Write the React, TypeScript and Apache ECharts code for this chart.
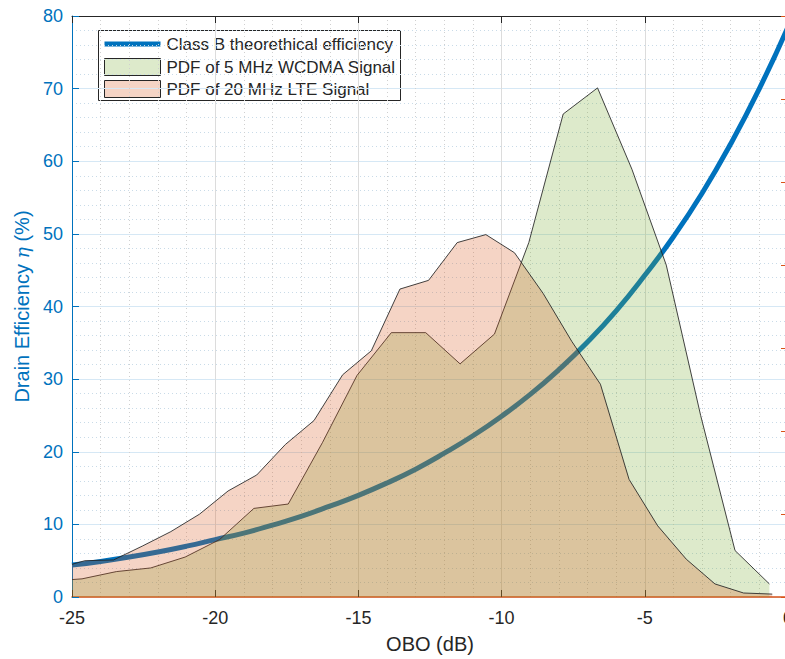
import React, { useEffect, useRef } from "react";
import * as echarts from "echarts";

// ---- data ----
const oboRange = [-25, 0];
const efficiencyRange = [0, 80];

const classBObo = [-25, -24, -23, -22, -21, -20, -19, -18, -17, -16, -15, -14, -13, -12, -11, -10, -9, -8, -7, -6, -5, -4, -3, -2, -1, 0];
const classBEff = [4.4, 4.9, 5.5, 6.2, 7.0, 7.9, 8.8, 9.9, 11.1, 12.5, 14.0, 15.7, 17.6, 19.8, 22.2, 24.9, 27.9, 31.3, 35.1, 39.4, 44.3, 49.6, 55.6, 62.4, 70.0, 78.5];

const wcdmaObo = [-25, -24.65, -23.45, -22.25, -21.05, -19.85, -18.65, -17.45, -16.25, -15.05, -13.85, -12.65, -11.45, -10.25, -9.05, -7.85, -6.65, -5.45, -4.25, -3.05, -1.85, -0.65];
const wcdmaPdf = [2.4, 2.5, 3.5, 4.0, 5.5, 7.9, 12.2, 12.8, 21.3, 30.5, 36.4, 36.4, 32.1, 36.2, 48.8, 66.5, 70.1, 58.9, 45.7, 25.0, 6.4, 1.8];

const lteObo = [-25, -24.55, -23.55, -22.55, -21.55, -20.55, -19.55, -18.55, -17.55, -16.55, -15.55, -14.55, -13.55, -12.55, -11.55, -10.55, -9.55, -8.55, -7.55, -6.55, -5.55, -4.55, -3.55, -2.55, -1.55, -0.55];
const ltePdf = [4.5, 5.0, 5.1, 7.0, 9.0, 11.4, 14.6, 16.8, 21.0, 24.3, 30.6, 33.9, 42.4, 43.6, 48.8, 49.9, 47.4, 41.8, 35.2, 29.3, 16.2, 9.8, 5.2, 1.8, 0.55, 0.4];

const legendLabels = ["Class B theorethical efficiency", "PDF of 5 MHz WCDMA Signal", "PDF of 20 MHz LTE Signal"];

const BLUE = "#0072BD";
const ORANGE = "#D95319";
const GREEN = "#77AC30";
const DARK = "#262626";
const FONT = "Liberation Sans, Arial, sans-serif";

const zip = (xs: number[], ys: number[]) => xs.map((x, i) => [x, ys[i]]);

export default function App() {
  const ref = useRef<HTMLDivElement>(null);
  useEffect(() => {
    if (!ref.current) return;
    document.body.style.overflow = "hidden";
    const chart = echarts.init(ref.current, null, { renderer: "svg" });
    const option: any = {
      animation: false,
      backgroundColor: "#ffffff",
      textStyle: { fontFamily: FONT },
      grid: { left: 72, top: 16, right: 12, bottom: 806 - 16 - 582 - 147, containLabel: false },
      xAxis: [
        {
          type: "value",
          min: oboRange[0],
          max: oboRange[1],
          interval: 5,
          position: "bottom",
          name: "OBO (dB)",
          nameLocation: "middle",
          nameGap: 37,
          nameTextStyle: { color: DARK, fontSize: 20, fontFamily: FONT },
          axisLine: { show: true, onZero: false, lineStyle: { color: ORANGE, width: 1.5 } },
          axisTick: { show: true, inside: true, length: 7, lineStyle: { color: DARK } },
          axisLabel: { color: DARK, fontSize: 18, margin: 12, fontFamily: FONT },
          splitLine: { show: true, lineStyle: { color: "#dcdcdc", width: 1 } },
          minorTick: { show: false, splitNumber: 5 },
          minorSplitLine: { show: true, lineStyle: { color: "#d0d0d0", type: [1, 3], width: 1 } },
        },
        {
          type: "value",
          min: oboRange[0],
          max: oboRange[1],
          interval: 5,
          position: "top",
          axisLine: { show: true, onZero: false, lineStyle: { color: DARK, width: 1 } },
          axisTick: { show: true, inside: true, length: 7, lineStyle: { color: DARK } },
          axisLabel: { show: false },
          splitLine: { show: false },
        },
      ],
      yAxis: [
        {
          type: "value",
          min: efficiencyRange[0],
          max: efficiencyRange[1],
          interval: 10,
          position: "left",
          name: "Drain Efficiency {i|η} (%)",
          nameLocation: "middle",
          nameGap: 40,
          nameRotate: 90,
          nameTextStyle: {
            color: BLUE,
            fontSize: 20,
            fontFamily: FONT,
            rich: { i: { fontStyle: "italic", fontFamily: "DejaVu Serif, serif", fontSize: 19, color: BLUE } },
          },
          axisLine: { show: true, onZero: false, lineStyle: { color: BLUE, width: 1 } },
          axisTick: { show: true, inside: true, length: 7, lineStyle: { color: BLUE } },
          axisLabel: { color: BLUE, fontSize: 18, margin: 9, fontFamily: FONT },
          splitLine: { show: true, lineStyle: { color: "#d6e8f5", width: 1 } },
          minorTick: { show: false, splitNumber: 5 },
          minorSplitLine: { show: true, lineStyle: { color: "#c9dbe8", type: [1, 3], width: 1 } },
        },
        {
          type: "value",
          min: 0,
          max: 7,
          interval: 1,
          position: "right",
          axisLine: { show: true, onZero: false, lineStyle: { color: ORANGE, width: 1 } },
          axisTick: { show: true, inside: true, length: 7, lineStyle: { color: ORANGE } },
          axisLabel: { show: false },
          splitLine: { show: false },
        },
      ],
      series: [
        {
          name: legendLabels[0],
          type: "line",
          data: zip(classBObo, classBEff),
          smooth: true,
          showSymbol: false,
          symbol: "none",
          lineStyle: { color: BLUE, width: 5 },
          z: 2,
        },
        {
          name: legendLabels[1],
          type: "line",
          data: zip(wcdmaObo, wcdmaPdf),
          showSymbol: false,
          symbol: "none",
          lineStyle: { color: "#222222", width: 1, opacity: 0.85 },
          areaStyle: { color: GREEN, opacity: 0.25, origin: "start" },
          z: 3,
        },
        {
          name: legendLabels[2],
          type: "line",
          data: zip(lteObo, ltePdf),
          showSymbol: false,
          symbol: "none",
          lineStyle: { color: "#222222", width: 1, opacity: 0.85 },
          areaStyle: { color: ORANGE, opacity: 0.25, origin: "start" },
          z: 4,
        },
      ],
      graphic: [
        {
          type: "group",
          left: 98,
          top: 30,
          z: 100,
          children: [
            { type: "rect", shape: { x: 0, y: 0, width: 302, height: 70 }, style: { fill: "#ffffff", stroke: DARK, lineWidth: 1 } },
            { type: "rect", shape: { x: 6, y: 11, width: 56, height: 5 }, style: { fill: BLUE } },
            { type: "rect", shape: { x: 6, y: 28, width: 56, height: 17 }, style: { fill: "#DDEACB", stroke: DARK, lineWidth: 1 } },
            { type: "rect", shape: { x: 6, y: 50, width: 56, height: 17 }, style: { fill: "#F5D4C5", stroke: DARK, lineWidth: 1 } },
            { type: "text", x: 68, y: 14, style: { text: legendLabels[0], fill: DARK, font: `17px ${FONT}`, textVerticalAlign: "middle" } },
            { type: "text", x: 68, y: 37, style: { text: legendLabels[1], fill: DARK, font: `17px ${FONT}`, textVerticalAlign: "middle" } },
            { type: "text", x: 68, y: 59, style: { text: legendLabels[2], fill: DARK, font: `17px ${FONT}`, textVerticalAlign: "middle" } },
          ],
        },
      ],
    };
    chart.setOption(option);
    return () => chart.dispose();
  }, []);
  return (
    <div
      ref={ref}
      style={{ position: "fixed", left: 0, top: 0, width: 800, height: 659, background: "#fff" }}
    />
  );
}
